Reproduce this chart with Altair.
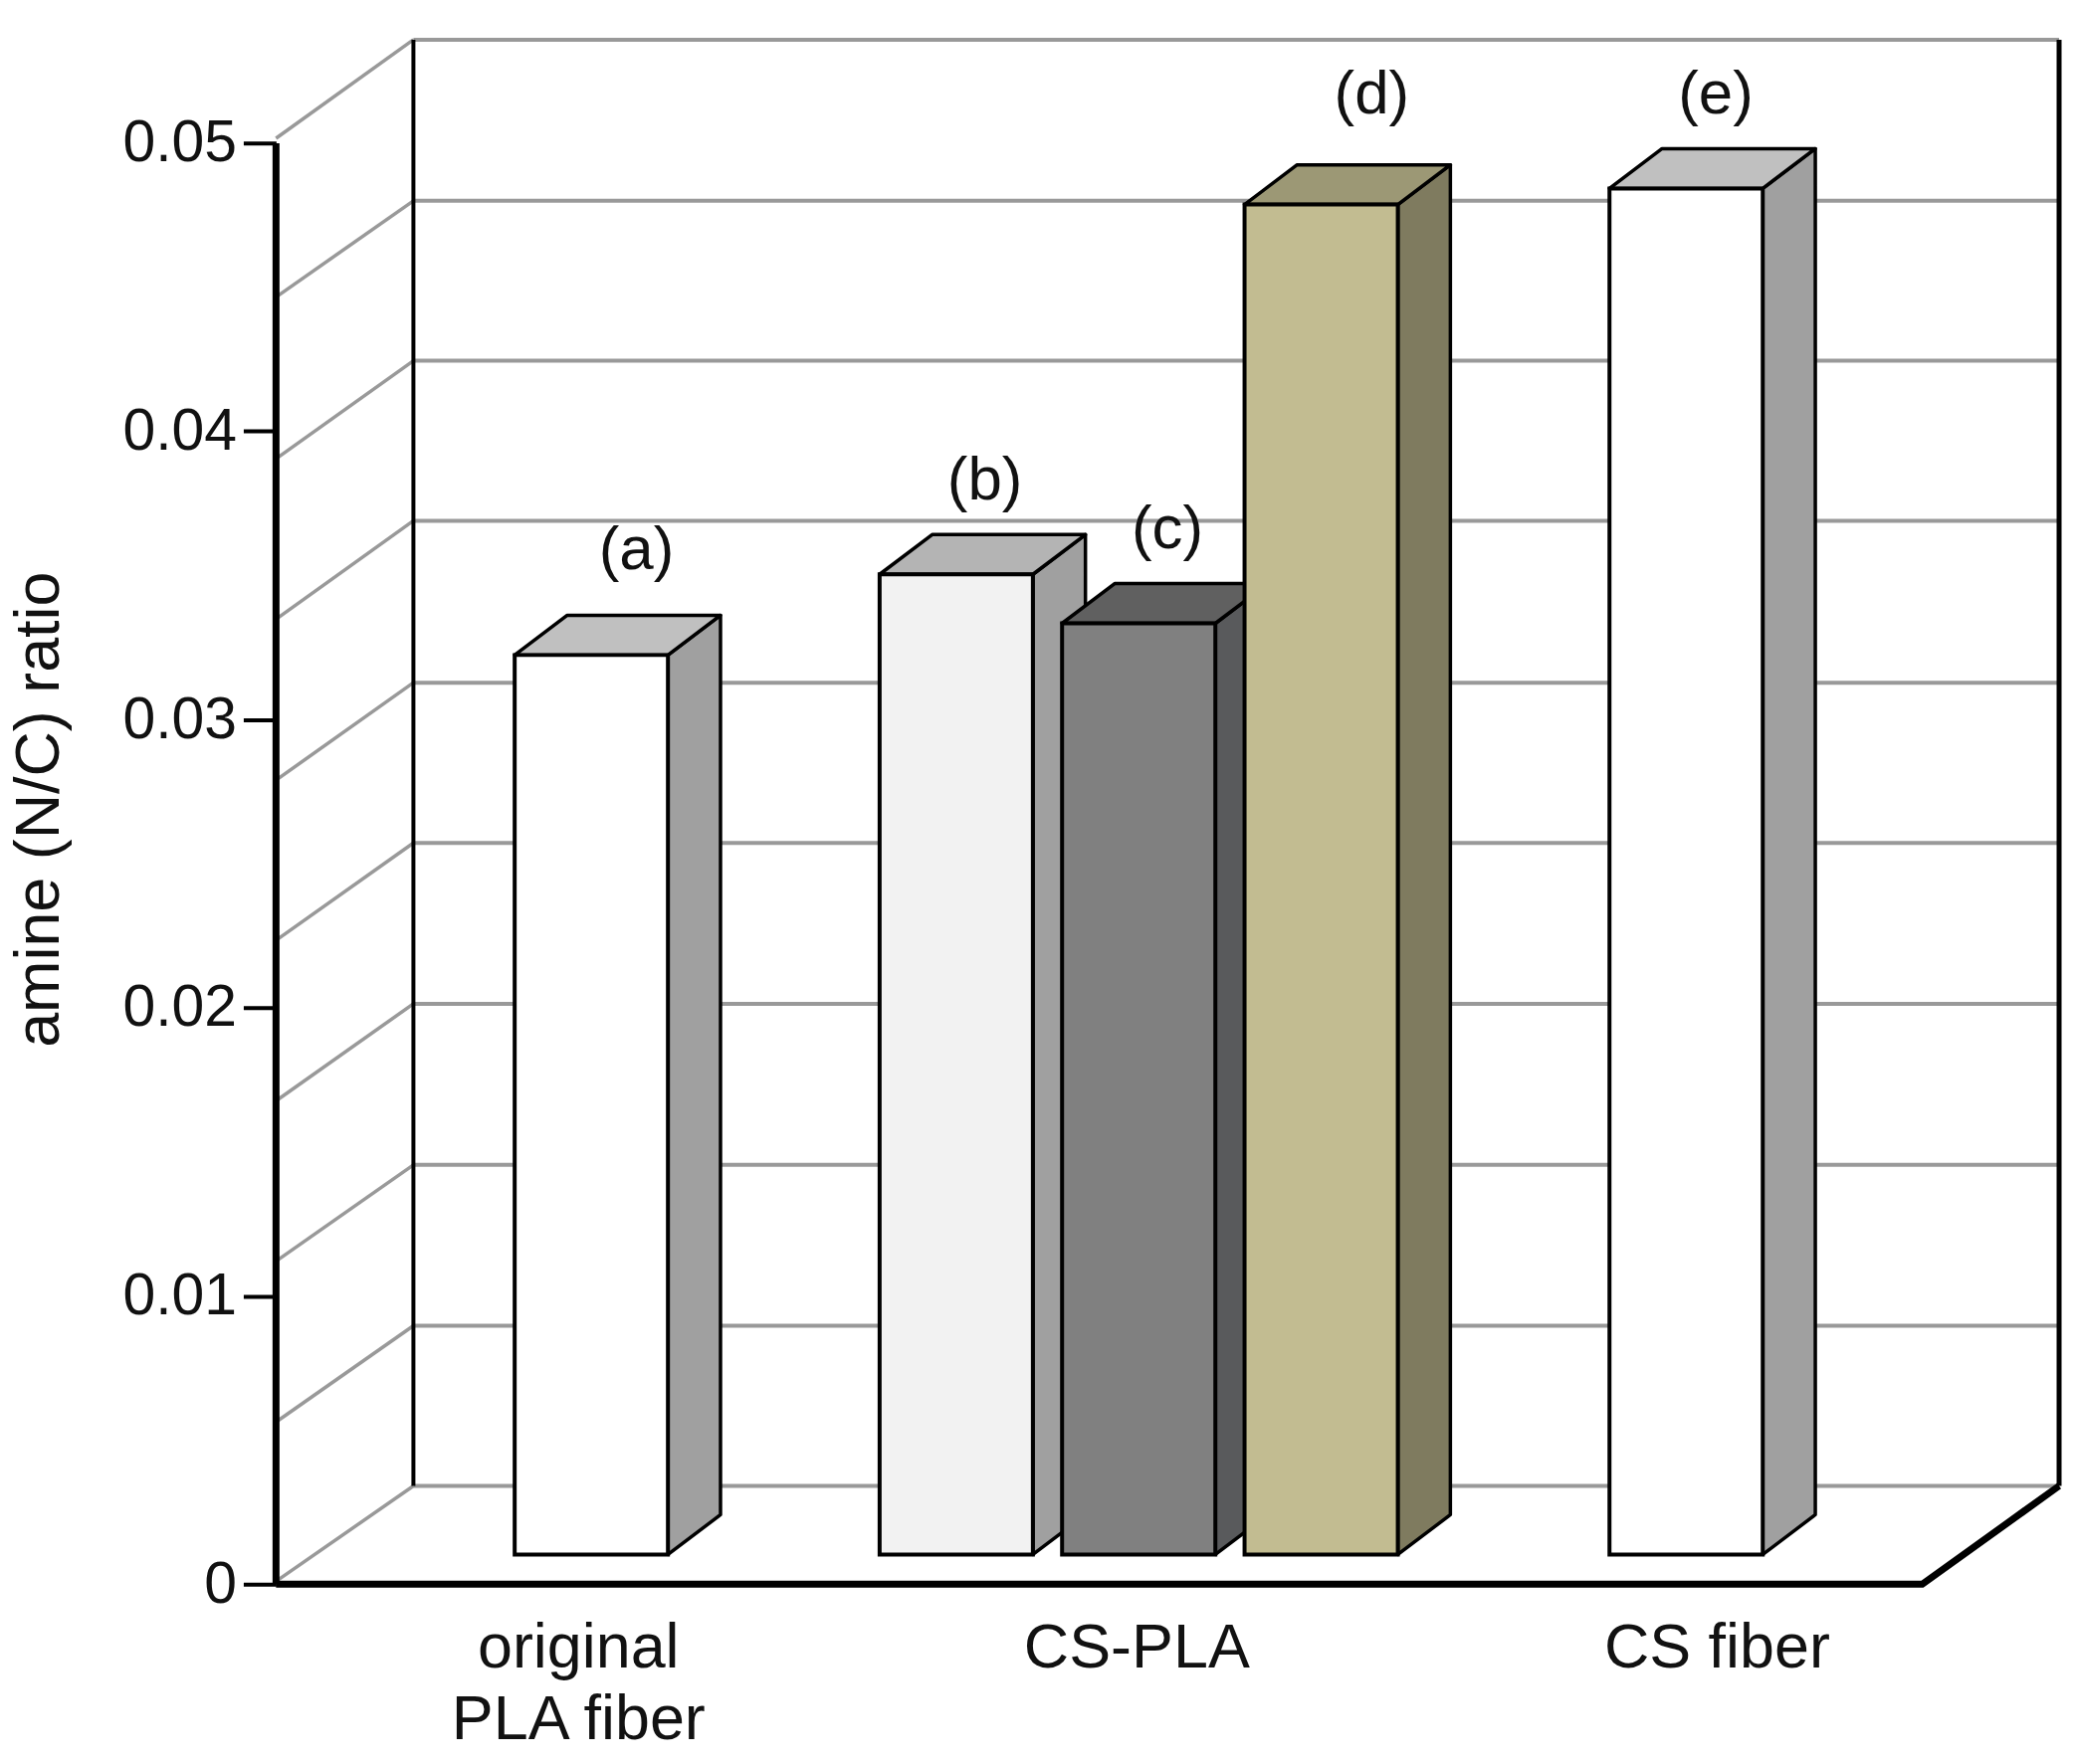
import altair as alt
import pandas as pd

# --- values ---
bar_names = ["(a)", "(b)", "(c)", "(d)", "(e)"]
bar_slots = [0, 2, 3, 4, 6]
bar_values = [0.03224, 0.03504, 0.03334, 0.04787, 0.04843]
label_dx = [0.24, 0.15, 0.15, 0.27, 0.155]
label_dv = [0.00365, 0.00325, 0.00325, 0.0038, 0.00325]
front_colors = ["#ffffff", "#f2f2f2", "#808080", "#c2bc91", "#ffffff"]
side_colors = ["#a0a0a0", "#a0a0a0", "#595a5c", "#7f7b5f", "#a0a0a0"]
top_colors = ["#c0c0c0", "#b4b4b4", "#606060", "#9c9875", "#c0c0c0"]

grid_front = [0.0001, 0.00563, 0.01121, 0.01677, 0.02234, 0.0279, 0.03348, 0.03905, 0.04466, 0.05017]
grid_back = [0.00341, 0.00897, 0.01455, 0.02014, 0.02572, 0.03128, 0.0369, 0.04245, 0.048, 0.05359]
y_ticks = [0, 0.01, 0.02, 0.03, 0.04, 0.05]
group_pos = [0.34, 3.40, 6.58]

# --- geometry in data units ---
X_MIN, X_MAX = -1.315, 8.457
Y_MAX = 0.05362
WALL_DX = 0.753
FLOOR_RIGHT = 7.707
BAR_SHIFT = -0.007
BAR_W = 0.84
BAR_DX = 0.288
BAR_DV = 0.00138
BAR_BASE = 0.00103

FONT = "Liberation Sans"
INK = "#111111"
GRID = "#999999"

xs = alt.Scale(domain=[X_MIN, X_MAX], nice=False, zero=False)
ys = alt.Scale(domain=[0, Y_MAX], nice=False, zero=False)
x_axis = alt.Axis(
    values=group_pos, domain=False, ticks=False, grid=False,
    labelFont=FONT, labelFontSize=63, labelColor=INK, labelPadding=33,
    labelLineHeight=73, labelFlush=False, labelOverlap=False, labelLimit=600,
    labelExpr="datum.value < 1 ? ['original', 'PLA fiber'] : datum.value < 5 ? 'CS-PLA' : 'CS fiber'",
)
y_axis = alt.Axis(
    values=y_ticks, domain=False, grid=False, tickSize=33, tickWidth=4,
    tickColor="black", labelFont=FONT, labelFontSize=59, labelColor=INK,
    labelPadding=7, labelOverlap=False, labelFlush=False,
    labelExpr="datum.value == 0 ? '0' : format(datum.value, '.2f')",
    titleFont=FONT, titleFontSize=63, titleFontWeight="normal", titleColor=INK,
    titlePadding=52, titleY=776,
)
X = alt.X("x:Q", scale=xs, axis=x_axis, title=None)
Y = alt.Y("y:Q", scale=ys, axis=y_axis, title="amine (N/C) ratio", stack=None)
X2 = alt.X2("x2:Q")
Y2 = alt.Y2("y2:Q")

layers = []

# back wall gridlines
back_df = pd.DataFrame({"x": [X_MIN + WALL_DX] * len(grid_back), "x2": [X_MAX] * len(grid_back), "y": grid_back})
layers.append(alt.Chart(back_df).mark_rule(color=GRID, strokeWidth=4).encode(x=X, x2=X2, y=Y))

# side wall gridlines
side_rows = []
for i, (f, b) in enumerate(zip(grid_front, grid_back)):
    side_rows.append({"x": X_MIN, "y": f, "g": i})
    side_rows.append({"x": X_MIN + WALL_DX, "y": b, "g": i})
layers.append(alt.Chart(pd.DataFrame(side_rows)).mark_line(color=GRID, strokeWidth=3.5).encode(x=X, y=Y, detail="g:N"))

# back and right wall verticals
layers.append(
    alt.Chart(pd.DataFrame({"x": [X_MIN + WALL_DX], "y": [grid_back[0]], "y2": [grid_back[-1]]}))
    .mark_rule(color="black", strokeWidth=4).encode(x=X, y=Y, y2=Y2)
)
layers.append(
    alt.Chart(pd.DataFrame({"x": [X_MAX], "y": [grid_back[0]], "y2": [grid_back[-1]]}))
    .mark_rule(color="black", strokeWidth=5).encode(x=X, y=Y, y2=Y2)
)

# front axis line and floor edge
layers.append(
    alt.Chart(pd.DataFrame({"x": [X_MIN], "y": [0.0], "y2": [0.05]}))
    .mark_rule(color="black", strokeWidth=7).encode(x=X, y=Y, y2=Y2)
)
floor_df = pd.DataFrame({"x": [X_MIN, FLOOR_RIGHT, X_MAX], "y": [0.0, 0.0, grid_back[0]]})
layers.append(alt.Chart(floor_df).mark_line(color="black", strokeWidth=7).encode(x=X, y=Y))

# the bars: side face, top face, front face
for slot, v, fc, sc, tc in zip(bar_slots, bar_values, front_colors, side_colors, top_colors):
    x0, x1 = slot + BAR_SHIFT, slot + BAR_SHIFT + BAR_W
    side_df = pd.DataFrame({
        "x": [x1, x1 + BAR_DX],
        "y": [BAR_BASE, BAR_BASE + BAR_DV],
        "y2": [v, v + BAR_DV],
    })
    top_df = pd.DataFrame({
        "x": [x0, x0 + BAR_DX, x1, x1 + BAR_DX],
        "y": [v, v, v, v + BAR_DV],
        "y2": [v, v + BAR_DV, v + BAR_DV, v + BAR_DV],
    })
    front_df = pd.DataFrame({"x": [x0], "x2": [x1], "y": [BAR_BASE], "y2": [v]})
    layers.append(alt.Chart(side_df).mark_area(orient="vertical", color=sc, stroke="black", strokeWidth=3.5, strokeJoin="round").encode(x=X, y=Y, y2=Y2))
    layers.append(alt.Chart(top_df).mark_area(orient="vertical", color=tc, stroke="black", strokeWidth=3.5, strokeJoin="round").encode(x=X, y=Y, y2=Y2))
    layers.append(alt.Chart(front_df).mark_rect(color=fc, stroke="black", strokeWidth=4).encode(x=X, x2=X2, y=Y, y2=Y2))

# bar letters
label_df = pd.DataFrame({
    "x": [s + BAR_W / 2 + d for s, d in zip(bar_slots, label_dx)],
    "y": [v + d for v, d in zip(bar_values, label_dv)],
    "t": bar_names,
})
layers.append(
    alt.Chart(label_df).mark_text(font=FONT, fontSize=62, color=INK, align="center", baseline="middle")
    .encode(x=X, y=Y, text="t:N")
)

chart = (
    alt.layer(*layers)
    .properties(width=1796, height=1557, background="white",
                autosize=alt.AutoSizeParams(type="none"),
                padding={"left": 270, "top": 29, "right": 7, "bottom": 170})
    .configure_view(stroke=None)
)

chart.save("out.html", embed_options={"renderer": "svg", "actions": False})
